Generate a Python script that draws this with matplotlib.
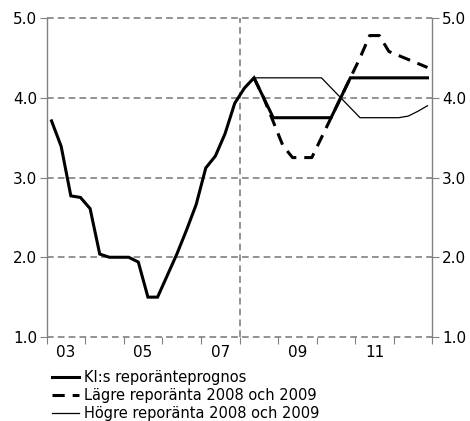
import matplotlib
matplotlib.use("Agg")
from matplotlib import pyplot as plt
from matplotlib.ticker import MultipleLocator, FixedLocator, FixedFormatter
import numpy as np

# quarterly data, positions at mid-quarter
hist_start = 2003.125
hist_values = [3.71, 3.39, 2.77, 2.75,
               2.61, 2.04, 2.00, 2.00,
               2.00, 1.94, 1.50, 1.50,
               1.77, 2.04, 2.34, 2.66,
               3.12, 3.27, 3.55, 3.93,
               4.12]

fc_start = 2008.375   # 2008 Q2 .. 2012 Q4
ki_forecast = [4.25, 4.00, 3.75,
               3.75, 3.75, 3.75, 3.75,
               3.75, 3.75, 4.00, 4.25,
               4.25, 4.25, 4.25, 4.25,
               4.25, 4.25, 4.25, 4.25]
lower_rate = [4.25, 4.00, 3.70,
              3.40, 3.25, 3.25, 3.25,
              3.50, 3.75, 4.00, 4.25,
              4.50, 4.78, 4.78, 4.58,
              4.53, 4.48, 4.43, 4.38]
higher_rate = [4.25, 4.25, 4.25,
               4.25, 4.25, 4.25, 4.25,
               4.25, 4.125, 4.00, 3.875,
               3.75, 3.75, 3.75, 3.75,
               3.75, 3.77, 3.83, 3.90]

year_labels = ['03', '05', '07', '09', '11']
label_pos = [2003.5, 2005.5, 2007.5, 2009.5, 2011.5]

labels = ['KI:s reporänteprognos',
          'Lägre reporänta 2008 och 2009',
          'Högre reporänta 2008 och 2009']

grey = '#808080'

fig = plt.figure(figsize=(4.70, 4.21), dpi=100)
ax = fig.add_axes([0.0994, 0.1995, 0.8204, 0.7577])

x_hist = hist_start + 0.25 * np.arange(len(hist_values))
x_fc = fc_start + 0.25 * np.arange(len(ki_forecast))

# main line: outcome + KI forecast as one thick line
x_main = np.concatenate([x_hist, x_fc])
y_main = list(hist_values) + list(ki_forecast)

l2, = ax.plot(x_fc, lower_rate, color='black', lw=2.2, linestyle=(0, (4, 2.6)),
              zorder=3)
l3, = ax.plot(x_fc, higher_rate, color='black', lw=0.9, zorder=3)
l1, = ax.plot(x_main, y_main, color='black', lw=2.2, zorder=4,
              solid_joinstyle='miter')

ax.set_xlim(2003, 2013)
ax.set_ylim(1.0, 5.0)

for v in [1.0, 2.0, 3.0, 4.0, 5.0]:
    ax.axhline(v, color=grey, lw=1.2, linestyle=(0, (4, 2.5)), zorder=1,
               clip_on=False)
ax.axvline(2008.0, color=grey, lw=1.2, linestyle=(0, (4, 2.5)), zorder=1)

ax.spines['top'].set_visible(False)
ax.spines['bottom'].set_visible(False)
ax.spines['left'].set_color(grey)
ax.spines['right'].set_color(grey)
ax.spines['left'].set_linewidth(1.0)
ax.spines['right'].set_linewidth(1.0)

ax.yaxis.set_major_locator(MultipleLocator(1.0))
ax.yaxis.set_major_formatter(plt.FormatStrFormatter('%.1f'))
ax.tick_params(axis='y', which='both', left=True, right=True,
               labelleft=True, labelright=True, direction='out',
               length=5, color=grey, labelsize=11, pad=2)

ax.xaxis.set_major_locator(FixedLocator(np.arange(2003, 2014)))
ax.xaxis.set_major_formatter(FixedFormatter([''] * 11))
ax.xaxis.set_minor_locator(FixedLocator(label_pos))
ax.xaxis.set_minor_formatter(FixedFormatter(year_labels))
ax.tick_params(axis='x', which='major', direction='out', length=5,
               color=grey)
ax.tick_params(axis='x', which='minor', length=0, labelsize=11, pad=6)

fig.legend([l1, l2, l3], labels, loc='upper left',
           bbox_to_anchor=(0.11, 0.12), frameon=False, fontsize=10.5,
           handlelength=1.9, handletextpad=0.3, labelspacing=0.2,
           borderaxespad=0, borderpad=0)

fig.savefig('out.png', dpi=100)
